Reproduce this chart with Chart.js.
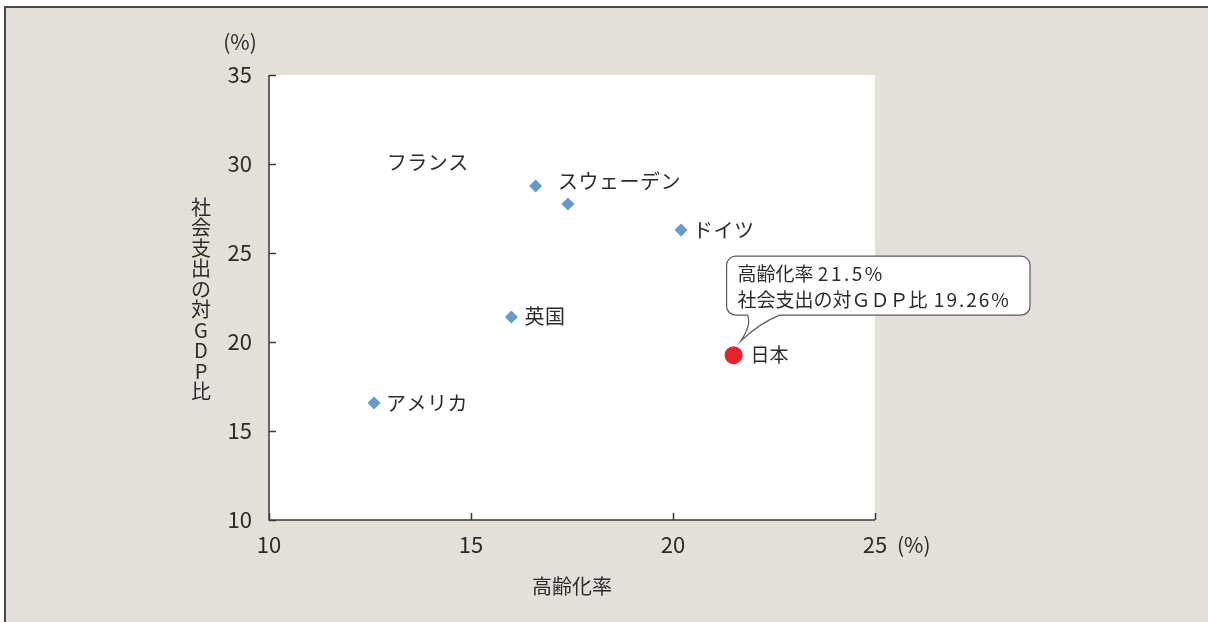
<!DOCTYPE html>
<html lang="ja">
<head>
<meta charset="utf-8">
<script src="https://cdn.jsdelivr.net/npm/chart.js@4.4.0/dist/chart.umd.min.js"></script>
<style>
  html, body { margin: 0; padding: 0; background: #ffffff; }
  #wrap { width: 1208px; height: 622px; position: relative; }
  canvas { display: block; }
</style>
</head>
<body>
<div id="wrap"><canvas id="c" width="1208" height="622"></canvas></div>
<script>
// 各国の高齢化率と社会支出の対GDP比
const countries = ['フランス', 'スウェーデン', 'ドイツ', '英国', 'アメリカ'];
const agingRate = [16.6, 17.4, 20.2, 16.0, 12.6];
const socialSpending = [28.76, 27.75, 26.29, 21.40, 16.57];

// 日本
const japanName = '日本';
const japanAging = 21.5;
const japanSpending = 19.26;

// 軸の目盛
const xTicks = [10, 15, 20, 25];
const yTicks = [10, 15, 20, 25, 30, 35];

const FONT = '"Noto Sans CJK JP", "Noto Sans", sans-serif';
const TEXT = '#2b2b2b';
const AXIS = '#3a3a3a';

// ラベルの位置(点からのずらし量)
const labelOffsets = [[-149, -24], [-10, -23], [12, 0], [13, -1], [12, 0]];

const pointsOther = agingRate.map((x, i) => ({ x: x, y: socialSpending[i] }));

// 文字列を区切りごとに字間を変えて描く
function drawRuns(ctx, runs, x, y) {
  let cx = x;
  runs.forEach(([text, spacing]) => {
    ctx.letterSpacing = spacing + 'px';
    ctx.fillText(text, cx, y);
    cx += ctx.measureText(text).width;
  });
  ctx.letterSpacing = '0px';
}

const decorPlugin = {
  id: 'decor',
  beforeDraw(chart) {
    const ctx = chart.ctx;
    const a = chart.chartArea;
    ctx.save();
    // パネル背景
    ctx.fillStyle = '#ffffff';
    ctx.fillRect(0, 0, chart.width, chart.height);
    ctx.fillStyle = '#e3e0d9';
    ctx.fillRect(5, 7, chart.width - 5, chart.height - 7);
    ctx.strokeStyle = '#4a4a4a';
    ctx.lineWidth = 2;
    ctx.beginPath();
    ctx.moveTo(5, chart.height);
    ctx.lineTo(5, 7);
    ctx.lineTo(chart.width, 7);
    ctx.stroke();
    // プロット領域
    ctx.fillStyle = '#ffffff';
    ctx.fillRect(a.left, a.top, a.right - a.left, a.bottom - a.top);
    ctx.restore();
  },
  afterDraw(chart) {
    const ctx = chart.ctx;
    const a = chart.chartArea;
    const xs = chart.scales.x, ys = chart.scales.y;
    ctx.save();
    // 軸線と内向きの目盛
    ctx.strokeStyle = AXIS;
    ctx.lineWidth = 1.5;
    ctx.beginPath();
    ctx.moveTo(a.left, a.top);
    ctx.lineTo(a.left, a.bottom);
    ctx.lineTo(a.right, a.bottom);
    yTicks.forEach(v => {
      const y = Math.round(ys.getPixelForValue(v)) + 0.5;
      ctx.moveTo(a.left, y);
      ctx.lineTo(a.left + 7, y);
    });
    xTicks.forEach(v => {
      const x = Math.round(xs.getPixelForValue(v)) + 0.5;
      ctx.moveTo(x, a.bottom);
      ctx.lineTo(x, a.bottom - 7);
    });
    ctx.stroke();

    // 単位
    ctx.fillStyle = TEXT;
    ctx.font = '21px ' + FONT;
    ctx.textBaseline = 'middle';
    ctx.textAlign = 'center';
    ctx.fillText('(%)', 240, 42);
    ctx.textAlign = 'left';
    ctx.fillText('(%)', 897, 545);

    // 軸タイトル
    ctx.font = '20px ' + FONT;
    ctx.textAlign = 'center';
    ctx.fillText('高齢化率', 572, 586);
    const yTitle = '社会支出の対GDP比';
    Array.from(yTitle).forEach((ch, i) => {
      ctx.fillText(ch, 201, 207 + i * 20.5);
    });

    // 国名ラベル
    ctx.textAlign = 'left';
    ctx.font = '20px ' + FONT;
    ctx.letterSpacing = '0.5px';
    countries.forEach((name, i) => {
      const px = xs.getPixelForValue(agingRate[i]);
      const py = ys.getPixelForValue(socialSpending[i]);
      ctx.fillText(name, px + labelOffsets[i][0], py + labelOffsets[i][1]);
    });
    ctx.letterSpacing = '0px';

    // 日本のラベルと吹き出し
    const jx = xs.getPixelForValue(japanAging);
    const jy = ys.getPixelForValue(japanSpending);
    ctx.font = '19px ' + FONT;
    ctx.fillText(japanName, jx + 17, jy);

    const bl = jx - 7, bt = jy - 99, br = 1030, bb = jy - 40, r = 9;
    const tailL = jx + 14, tailR = jx + 46, tipX = jx + 7, tipY = jy - 14;
    ctx.beginPath();
    ctx.moveTo(bl + r, bt);
    ctx.lineTo(br - r, bt);
    ctx.arcTo(br, bt, br, bt + r, r);
    ctx.lineTo(br, bb - r);
    ctx.arcTo(br, bb, br - r, bb, r);
    ctx.lineTo(tailR, bb);
    ctx.quadraticCurveTo(tailR - 20, bb + 8, tipX, tipY);
    ctx.quadraticCurveTo(tailL + 4, bb + 10, tailL, bb);
    ctx.lineTo(bl + r, bb);
    ctx.arcTo(bl, bb, bl, bb - r, r);
    ctx.lineTo(bl, bt + r);
    ctx.arcTo(bl, bt, bl + r, bt, r);
    ctx.closePath();
    ctx.fillStyle = '#ffffff';
    ctx.fill();
    ctx.strokeStyle = '#5a5a5a';
    ctx.lineWidth = 1.2;
    ctx.stroke();

    ctx.fillStyle = TEXT;
    ctx.font = '19px ' + FONT;
    drawRuns(ctx, [['高齢化率', 0], [' ', 0], [japanAging + '%', 2.5]], bl + 11, bt + 18);
    drawRuns(ctx, [['社会支出の対', 0], ['ＧＤＰ', 0], ['比', 0], [' ' + japanSpending + '%', 2]], bl + 11, bt + 44);
    ctx.restore();
  }
};

new Chart(document.getElementById('c'), {
  type: 'scatter',
  data: {
    datasets: [
      {
        label: '各国',
        data: pointsOther,
        pointStyle: 'rectRot',
        pointRadius: 6.5,
        pointHoverRadius: 6.5,
        backgroundColor: '#6699cc',
        borderColor: '#6699cc',
        borderWidth: 0
      },
      {
        label: japanName,
        data: [{ x: japanAging, y: japanSpending }],
        pointStyle: 'circle',
        pointRadius: 9,
        pointHoverRadius: 9,
        backgroundColor: '#e8232b',
        borderColor: '#e8232b',
        borderWidth: 0
      }
    ]
  },
  options: {
    responsive: false,
    animation: false,
    devicePixelRatio: 1,
    layout: { padding: { left: 0, top: 75, right: 333, bottom: 0 } },
    plugins: { legend: { display: false }, tooltip: { enabled: false } },
    scales: {
      x: {
        type: 'linear',
        min: 10, max: 25,
        afterFit(s) { s.height = 102; },
        afterBuildTicks(s) { s.ticks = xTicks.map(v => ({ value: v })); },
        grid: { display: false, drawTicks: false },
        border: { display: false },
        ticks: { padding: 11, color: TEXT, font: { family: FONT, size: 22 } }
      },
      y: {
        type: 'linear',
        min: 10, max: 35,
        afterFit(s) { s.width = 269; },
        afterBuildTicks(s) { s.ticks = yTicks.map(v => ({ value: v })); },
        grid: { display: false, drawTicks: false },
        border: { display: false },
        ticks: { padding: 17, color: TEXT, font: { family: FONT, size: 22 } }
      }
    }
  },
  plugins: [decorPlugin]
});
</script>
</body>
</html>
